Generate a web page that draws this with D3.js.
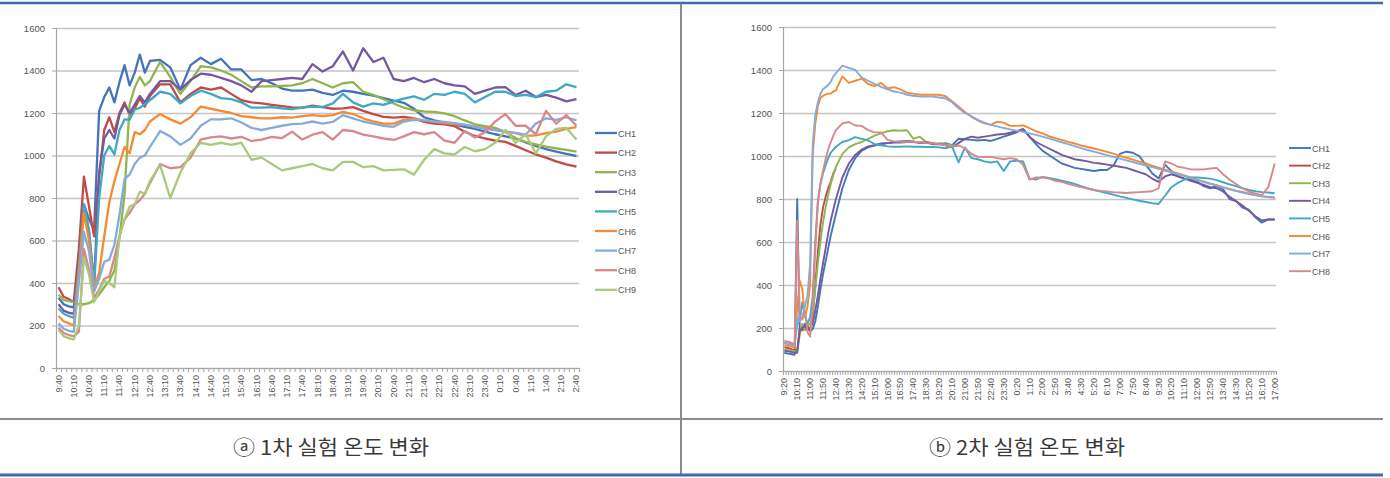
<!DOCTYPE html>
<html>
<head>
<meta charset="utf-8">
<script src="https://cdn.jsdelivr.net/npm/d3@7"></script>
<style>
  body { margin: 0; background: #fff; }
  svg { display: block; font-family: "Liberation Sans", Arial, sans-serif; }
</style>
</head>
<body>
<svg id="chart" width="1390" height="478"></svg>
<script>
// channel names and colours
var channels = ["CH1", "CH2", "CH3", "CH4", "CH5", "CH6", "CH7", "CH8", "CH9"];
var channelColors = ["#4474b8", "#be4b48", "#8fb54c", "#7558a0", "#3fa9c4", "#f58a36", "#85abdc", "#d8878a", "#a9ca7c"];
var yTicks = [0, 200, 400, 600, 800, 1000, 1200, 1400, 1600];

// run 1: 9:40 -> 2:40, tick labels every 30 min
var run1Labels = ["9:40", "10:10", "10:40", "11:10", "11:40", "12:10", "12:40", "13:10", "13:40", "14:10",
  "14:40", "15:10", "15:40", "16:10", "16:40", "17:10", "17:40", "18:10", "18:40", "19:10", "19:40",
  "20:10", "20:40", "21:10", "21:40", "22:10", "22:40", "23:10", "23:40", "0:10", "0:40", "1:10",
  "1:40", "2:10", "2:40"];
// sample minutes after 9:40 (10 min steps to 12:40, then 20 min)
var run1Minutes = d3.range(0, 181, 10).concat(d3.range(200, 1021, 20));

var run1Ch1 = [330, 300, 290, 285, 500, 770, 700, 650, 1210, 1275, 1320, 1250, 1345, 1425, 1330, 1390, 1475, 1390, 1445,
  1450, 1415, 1310, 1425, 1460, 1430, 1455, 1405, 1405, 1355, 1360, 1340, 1315, 1305, 1305, 1310, 1295, 1285, 1305, 1300,
  1290, 1282, 1270, 1258, 1248, 1220, 1180, 1165, 1155, 1145, 1135, 1125, 1112, 1100, 1090, 1080, 1062, 1045, 1030, 1018, 1008, 998];
var run1Ch2 = [380, 335, 325, 310, 560, 900, 760, 620, 900, 1120, 1180, 1110, 1200, 1250, 1190, 1220, 1270, 1230, 1280,
  1335, 1335, 1250, 1290, 1320, 1310, 1320, 1290, 1260, 1250, 1245, 1238, 1232, 1226, 1225, 1235, 1228, 1220, 1222, 1228,
  1210, 1195, 1182, 1178, 1182, 1175, 1158, 1150, 1146, 1138, 1112, 1092, 1080, 1070, 1064, 1045, 1025, 1005, 990, 972, 958, 948];
var run1Ch3 = [345, 320, 315, 310, 300, 300, 305, 320, 345, 380, 410, 460, 610, 820, 1240, 1320, 1370, 1330, 1350,
  1440, 1370, 1290, 1350, 1420, 1415, 1400, 1380, 1350, 1320, 1325, 1325, 1327, 1330, 1340, 1360, 1340, 1320, 1340, 1345,
  1300, 1285, 1265, 1245, 1225, 1212, 1207, 1205, 1198, 1185, 1165, 1147, 1138, 1130, 1110, 1082, 1063, 1052, 1042, 1034, 1026, 1018];
var run1Ch4 = [300, 270, 260, 255, 500, 760, 640, 400, 920, 1080, 1120, 1080, 1190, 1240, 1200, 1240, 1280, 1250, 1290,
  1350, 1350, 1310, 1355, 1385, 1380, 1365, 1350, 1330, 1300, 1350, 1355, 1360, 1365, 1360, 1430, 1395, 1420, 1490, 1400,
  1505, 1440, 1460, 1360, 1350, 1365, 1345, 1360, 1340, 1330, 1325, 1290, 1305, 1320, 1322, 1285, 1305, 1275, 1285, 1272, 1255, 1265];
var run1Ch5 = [280, 255, 245, 235, 480, 770, 650, 380, 800, 1000, 1045, 1005, 1120, 1170, 1168, 1215, 1225, 1240, 1260,
  1300, 1290, 1245, 1280, 1305, 1290, 1270, 1265, 1250, 1225, 1225, 1228, 1222, 1218, 1225, 1230, 1228, 1245, 1290, 1250,
  1230, 1245, 1238, 1255, 1268, 1278, 1262, 1290, 1285, 1300, 1290, 1250, 1275, 1300, 1300, 1280, 1285, 1275, 1300, 1305, 1335, 1322];
var run1Ch6 = [245, 220, 210, 200, 450, 730, 600, 370, 450, 620, 780, 880, 960, 1040, 1010, 1110, 1100, 1120, 1160,
  1195, 1170, 1150, 1180, 1230, 1220, 1210, 1200, 1185, 1180, 1175, 1175, 1180, 1178, 1185, 1190, 1185, 1190, 1205, 1195,
  1175, 1160, 1150, 1150, 1168, 1175, 1165, 1158, 1152, 1148, 1144, 1137, 1130, 1120, 1112, 1105, 1092, 1095, 1105, 1112, 1125, 1133];
var run1Ch7 = [210, 185, 175, 170, 400, 640, 550, 360, 420, 500, 510, 580, 720, 890, 910, 960, 990, 1000, 1040,
  1115, 1090, 1050, 1080, 1140, 1170, 1170, 1175, 1155, 1130, 1120, 1130, 1140, 1148, 1150, 1160, 1150, 1158, 1190, 1175,
  1160, 1150, 1140, 1135, 1160, 1168, 1165, 1160, 1158, 1152, 1145, 1135, 1125, 1120, 1113, 1106, 1098, 1150, 1175, 1168, 1180, 1165];
var run1Ch8 = [190, 165, 155, 150, 170, 560, 460, 330, 370, 420, 430, 520, 620, 700, 730, 770, 790, 820, 870,
  960, 940, 945, 990, 1075, 1085, 1090, 1080, 1088, 1068, 1075, 1088, 1082, 1112, 1075, 1098, 1110, 1075, 1120, 1115,
  1098, 1090, 1080, 1073, 1090, 1110, 1100, 1110, 1070, 1060, 1115, 1085, 1110, 1160, 1195, 1140, 1140, 1100, 1210, 1150, 1190, 1140];
var run1Ch9 = [180, 150, 140, 135, 200, 520, 440, 310, 360, 410, 400, 380, 620, 700, 760, 770, 830, 820, 880,
  955, 800, 920, 1010, 1060, 1050, 1060, 1050, 1060, 980, 990, 960, 930, 940, 950, 960, 940, 930, 970, 970,
  945, 950, 930, 932, 935, 910, 980, 1030, 1010, 1005, 1040, 1020, 1030, 1060, 1120, 1060, 1100, 1010, 1090, 1125, 1130, 1075];

// run 2: 9:20 -> 17:00 next day, tick labels every 50 min
var run2Labels = ["9:20", "10:10", "11:00", "11:50", "12:40", "13:30", "14:20", "15:10", "16:00", "16:50",
  "17:40", "18:30", "19:20", "20:10", "21:00", "21:50", "22:40", "23:30", "0:20", "1:10", "2:00", "2:50",
  "3:40", "4:30", "5:20", "6:10", "7:00", "7:50", "8:40", "9:30", "10:20", "11:10", "12:00", "12:50",
  "13:40", "14:30", "15:20", "16:10", "17:00"];
// sample minutes after 9:20 (10 min steps to 12:40, then 25 min)
var run2Minutes = d3.range(0, 201, 10).concat(d3.range(225, 1901, 25));

var run2Ch1 = [85, 82, 80, 78, 75, 800, 180, 200, 220, 200, 185, 195, 230, 300, 380, 450, 510, 570, 630, 680, 730,
  850, 935, 990, 1025, 1040, 1050, 1058, 1060, 1062, 1062, 1065, 1065, 1062, 1065, 1060, 1055, 1060, 1050, 1080, 1078,
  1075, 1072, 1075, 1070, 1080, 1090, 1100, 1110, 1125, 1090, 1055, 1025, 1005, 985, 965, 955, 945, 940, 935, 930,
  935, 935, 955, 1010, 1020, 1015, 1000, 960, 920, 895, 960, 930, 905, 895, 890, 880, 860, 850, 860, 845,
  800, 790, 760, 750, 715, 690, 705, 705];
var run2Ch2 = [110, 108, 105, 100, 98, 95, 200, 190, 200, 210, 190, 250, 400, 550, 680, 760, 810, 850, 880, 920, 940];
var run2Ch3 = [100, 98, 96, 95, 92, 90, 170, 220, 190, 210, 220, 260, 380, 500, 600, 690, 760, 820, 870, 910, 950,
  1010, 1040, 1055, 1065, 1080, 1095, 1105, 1115, 1120, 1118, 1120, 1080, 1090, 1065, 1055, 1060, 1055, 1050, 1045];
var run2Ch4 = [95, 92, 90, 88, 85, 85, 190, 200, 210, 190, 200, 220, 280, 350, 430, 500, 570, 640, 700, 750, 800,
  900, 965, 1005, 1030, 1045, 1050, 1055, 1060, 1065, 1068, 1070, 1068, 1060, 1062, 1055, 1055, 1050, 1040, 1060, 1080,
  1090, 1085, 1090, 1095, 1100, 1102, 1108, 1115, 1125, 1090, 1065, 1050, 1035, 1020, 1005, 995, 985, 980, 975, 968,
  965, 960, 955, 950, 945, 935, 925, 915, 895, 880, 905, 915, 905, 895, 885, 875, 865, 855, 850, 835,
  810, 790, 770, 745, 720, 700, 705, 705];
var run2Ch5 = [130, 128, 125, 122, 120, 220, 230, 320, 260, 220, 250, 350, 600, 790, 870, 920, 955, 990, 1015, 1030, 1043,
  1065, 1074, 1088, 1080, 1072, 1055, 1050, 1045, 1043, 1043, 1045, 1043, 1043, 1042, 1042, 1040, 1036, 1045, 970, 1040,
  990, 985, 975, 970, 975, 930, 975, 978, 975, 895, 890, 903, 898, 892, 885, 878, 870, 860, 850, 842,
  835, 828, 820, 812, 805, 798, 792, 786, 781, 777, 815, 855, 875, 890, 900, 900, 898, 895, 888, 878,
  868, 860, 850, 842, 836, 832, 830, 827];
var run2Ch6 = [120, 118, 115, 112, 110, 300, 420, 380, 250, 300, 400, 1000, 1150, 1230, 1270, 1280, 1285, 1290, 1290, 1300, 1305,
  1370, 1340, 1350, 1360, 1335, 1325, 1340, 1315, 1320, 1310, 1295, 1290, 1285, 1285, 1285, 1285, 1278, 1255, 1230, 1205,
  1182, 1165, 1152, 1145, 1160, 1155, 1140, 1140, 1142, 1130, 1115, 1105, 1092, 1083, 1075, 1066, 1058, 1049, 1042, 1035,
  1027, 1019, 1011, 1001, 992, 983, 974, 965, 955, 946, 937, 928, 919, 910, 900, 890, 881, 872, 864, 855,
  847, 839, 833, 826, 819, 813, 809, 805];
var run2Ch7 = [130, 128, 125, 122, 120, 250, 230, 250, 300, 350, 500, 1050, 1190, 1250, 1290, 1310, 1320, 1330, 1345, 1370, 1385,
  1420, 1410, 1400, 1365, 1350, 1335, 1322, 1310, 1300, 1295, 1285, 1280, 1276, 1276, 1276, 1272, 1268, 1250, 1222, 1200,
  1185, 1168, 1155, 1145, 1138, 1130, 1124, 1118, 1112, 1105, 1098, 1090, 1082, 1073, 1064, 1055, 1046, 1037, 1028, 1020,
  1012, 1004, 996, 988, 980, 972, 964, 956, 948, 940, 932, 924, 915, 906, 897, 888, 879, 870, 862, 853,
  845, 837, 830, 823, 817, 812, 810, 808];
var run2Ch8 = [140, 138, 135, 130, 125, 700, 250, 240, 280, 180, 160, 300, 560, 780, 870, 930, 985, 1030, 1065, 1095, 1120,
  1152, 1158, 1142, 1140, 1120, 1110, 1110, 1075, 1068, 1066, 1066, 1066, 1064, 1060, 1058, 1055, 1050, 1045, 1050, 1035,
  1010, 996, 995, 996, 990, 985, 990, 985, 960, 890, 900, 900, 895, 885, 880, 870, 862, 855, 848, 842,
  838, 835, 832, 830, 828, 830, 832, 834, 836, 850, 975, 965, 950, 945, 938, 937, 938, 942, 945, 915,
  890, 870, 850, 835, 825, 818, 855, 965];

var svg = d3.select("#chart");

function drawPanel(p) {
  var g = svg.append("g");
  var x = d3.scaleLinear().domain([-5, p.span + 5]).range([p.left, p.right]);
  var y = d3.scaleLinear().domain([0, 1600]).range([p.bottom, p.top]);

  // horizontal gridlines
  g.append("g")
    .attr("transform", `translate(${p.left},0)`)
    .call(d3.axisLeft(y).tickValues(yTicks).tickSize(-(p.right - p.left)).tickFormat(""))
    .call(a => a.select(".domain").remove())
    .selectAll("line").attr("stroke", "#c4c4c4").attr("stroke-width", 1.4);

  // y axis
  var yAxis = g.append("g")
    .attr("transform", `translate(${p.left},0)`)
    .call(d3.axisLeft(y).tickValues(yTicks).tickSize(4).tickPadding(7).tickFormat(d3.format("d")));
  yAxis.select(".domain").attr("stroke", "#a6a6a6").attr("stroke-width", 1.2);
  yAxis.selectAll("line").attr("stroke", "#a6a6a6");
  yAxis.selectAll("text").attr("fill", "#555").style("font-size", "9.5px");

  // x axis: a tick between every 10-minute category
  var xAxis = g.append("g")
    .attr("transform", `translate(0,${p.bottom})`)
    .call(d3.axisBottom(x).tickValues(d3.range(-5, p.span + 6, 10)).tickSize(4).tickFormat(""));
  xAxis.select(".domain").attr("stroke", "#a6a6a6").attr("stroke-width", 1.2);
  xAxis.selectAll("line").attr("stroke", "#a6a6a6");

  g.append("g").selectAll("text")
    .data(p.labels)
    .enter().append("text")
    .attr("transform", (d, i) => `translate(${x(i * p.labelStep) + 3},${p.bottom + 7}) rotate(-90)`)
    .attr("text-anchor", "end")
    .attr("fill", "#555")
    .style("font-size", "9px")
    .text(d => d);

  // series lines
  var line = d3.line()
    .x((d, i) => x(p.minutes[i]))
    .y(d => y(d));

  p.series.forEach(function(s, k) {
    g.append("path")
      .datum(s)
      .attr("fill", "none")
      .attr("stroke", channelColors[k])
      .attr("stroke-width", p.lineWidth)
      .attr("stroke-linejoin", "round")
      .attr("d", line);
  });

  // legend
  var lg = g.append("g").attr("transform", `translate(${p.legendX},${p.legendY})`);
  p.series.forEach(function(s, k) {
    var row = lg.append("g").attr("transform", `translate(0,${k * p.legendGap})`);
    row.append("line")
      .attr("x1", 0).attr("x2", 22)
      .attr("stroke", channelColors[k])
      .attr("stroke-width", p.lineWidth);
    row.append("text")
      .attr("x", 23).attr("y", 3.5)
      .attr("fill", "#555")
      .style("font-size", "9px")
      .text(channels[k]);
  });
}

drawPanel({
  left: 56, right: 579, top: 28, bottom: 368,
  span: 1020, labelStep: 30, labels: run1Labels, minutes: run1Minutes,
  series: [run1Ch1, run1Ch2, run1Ch3, run1Ch4, run1Ch5, run1Ch6, run1Ch7, run1Ch8, run1Ch9],
  lineWidth: 2.3, legendX: 595, legendY: 133, legendGap: 19.6
});

drawPanel({
  left: 783, right: 1276, top: 27, bottom: 371,
  span: 1900, labelStep: 50, labels: run2Labels, minutes: run2Minutes,
  series: [run2Ch1, run2Ch2, run2Ch3, run2Ch4, run2Ch5, run2Ch6, run2Ch7, run2Ch8],
  lineWidth: 1.9, legendX: 1289, legendY: 148, legendGap: 17.6
});

// table frame
svg.append("line").attr("x1", 0).attr("x2", 1383).attr("y1", 3).attr("y2", 3)
  .attr("stroke", "#3a6cb0").attr("stroke-width", 2.5);
svg.append("line").attr("x1", 0).attr("x2", 1383).attr("y1", 419).attr("y2", 419)
  .attr("stroke", "#8c8c8c").attr("stroke-width", 2);
svg.append("line").attr("x1", 681).attr("x2", 681).attr("y1", 4).attr("y2", 474)
  .attr("stroke", "#8c8c8c").attr("stroke-width", 2);
svg.append("line").attr("x1", 0).attr("x2", 1383).attr("y1", 475).attr("y2", 475)
  .attr("stroke", "#3a6cb0").attr("stroke-width", 3);

// captions
var captions = [{ text: "ⓐ 1차 실험 온도 변화", cx: 331 }, { text: "ⓑ 2차 실험 온도 변화", cx: 1027 }];
svg.selectAll("text.caption")
  .data(captions)
  .enter().append("text")
  .attr("class", "caption")
  .attr("x", d => d.cx)
  .attr("y", 455)
  .attr("text-anchor", "middle")
  .attr("textLength", 196)
  .attr("lengthAdjust", "spacingAndGlyphs")
  .attr("fill", "#3a3a3a")
  .style("font-family", "'Noto Sans CJK KR', sans-serif")
  .style("font-size", "20px")
  .text(d => d.text);
</script>
</body>
</html>
